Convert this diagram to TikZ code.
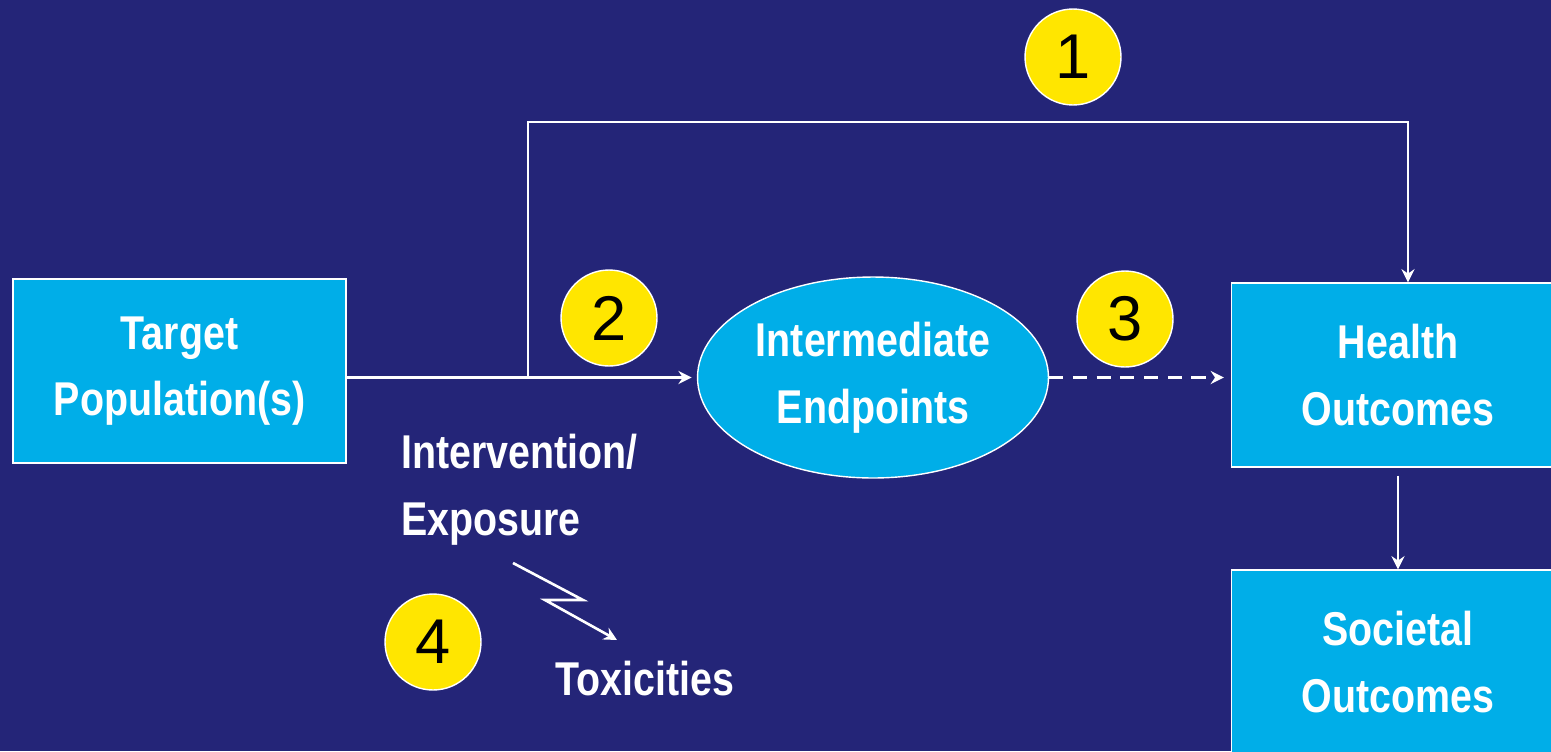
\documentclass[tikz,border=0pt]{standalone}
\usepackage{fontspec}
\setmainfont[FakeStretch=0.83]{Liberation Sans}
\newfontfamily\numfont{Liberation Sans}
\usepackage{tikz}
\usetikzlibrary{shapes.geometric}
\usetikzlibrary{arrows.meta}

\definecolor{navy}{RGB}{36,37,120}
\definecolor{boxblue}{RGB}{0,174,232}
\definecolor{badgeyellow}{RGB}{255,230,0}

\newcommand{\labelfont}{\bfseries\fontsize{27}{38}\selectfont}

\tikzset{
  box/.style={draw=white, line width=0.8pt, fill=boxblue, text=white,
    minimum width=6.66cm, minimum height=3.68cm, inner sep=0pt,
    align=center, font=\labelfont},
  oval/.style={ellipse, draw=white, line width=0.8pt, fill=boxblue, text=white,
    minimum width=7.02cm, minimum height=4.02cm, inner sep=0pt,
    align=center, font=\labelfont},
  badge/.style={circle, draw=white, line width=0.8pt, fill=badgeyellow,
    minimum size=1.92cm, inner sep=0pt, font=\numfont\fontsize{36}{40}\selectfont},
  plain/.style={text=white, align=left, inner sep=0pt, font=\labelfont},
  link/.style={white, line width=1.5pt, ->},
  >={Stealth[length=7.5pt, width=7.5pt, inset=2.5pt]}
}

\begin{document}
\begin{tikzpicture}[x=0.02cm, y=-0.02cm]
  \fill[navy] (0,0) rectangle (1551,751);
  \useasboundingbox (0,0) rectangle (1551,751);
  \clip (0,0) rectangle (1551,751);

  % boxes
  \node[box] (target) at (179.5,371) {Target\\Population(s)};
  \node[oval] (inter) at (873,377.5) {Intermediate\\Endpoints};
  \node[box] (health) at (1398,375) {Health\\Outcomes};
  \node[box] (society) at (1398,662) {Societal\\Outcomes};

  % numbered links
  \node[badge] (n1) at (1073,57) {1};
  \node[badge] (n2) at (609,318) {2};
  \node[badge] (n3) at (1125,319) {3};
  \node[badge] (n4) at (433,642) {4};

  % side labels
  \node[plain, anchor=base west] (expo) at (401,535) {Intervention/\\Exposure};
  \node[plain, anchor=base] (tox) at (645,695) {Toxicities};

  \coordinate (split) at (528,377.5);
  \coordinate (rise) at (1408,122);

  \draw[link, shorten >=3pt] (target.east |- inter.west) -- (inter.west);
  \draw[link] (split) |- (rise) -- (rise |- health.north);
  \draw[link, dash pattern=on 8pt off 5.5pt, shorten >=4pt] (inter.east) -- (health.west |- inter.east);
  \draw[link, shorten <=4.5pt] (health.south) -- (society.north);

  % toxicity zigzag
  \draw[link] (513,563) -- (583,600) -- (545,600) -- (617,640);
\end{tikzpicture}
\end{document}
